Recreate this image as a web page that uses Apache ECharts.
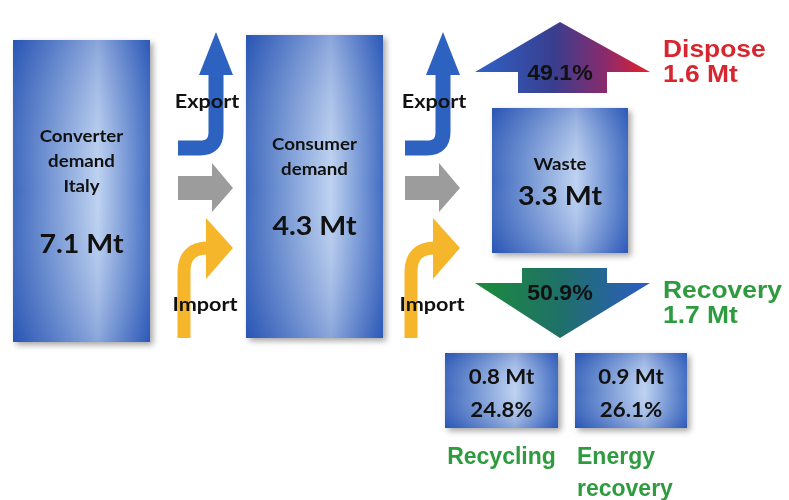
<!DOCTYPE html>
<html>
<head>
<meta charset="utf-8">
<script src="https://cdn.jsdelivr.net/npm/echarts@6/dist/echarts.min.js"></script>
<style>
  html, body { margin: 0; padding: 0; background: #fff; }
  #chart { width: 789px; height: 500px; }
</style>
</head>
<body>
<div id="chart"></div>
<script>
// values
const stageNames = ['Converter\ndemand\nItaly', 'Consumer\ndemand', 'Waste']
const stageValues = [7.1, 4.3, 3.3]
const flowLabels = ['Export', 'Import']
const outcomeNames = ['Dispose', 'Recovery']
const outcomeValues = [1.6, 1.7]
const outcomeShares = [49.1, 50.9]
const recoveryNames = ['Recycling', 'Energy\nrecovery']
const recoveryValues = [0.8, 0.9]
const recoveryShares = [24.8, 26.1]

// layout in diagram units (hidden axes span 0..789 x 0..500)
const boxLayout = [
  [13, 40, 150, 342],
  [246, 35, 383, 338],
  [492, 108, 628, 253],
  [445, 353, 558, 428],
  [575, 353, 687, 428]
]
const stageTextY = [[162, 245], [157, 227], [165, 197]]
const transferOffsets = [0, 227]

const chart = echarts.init(document.getElementById('chart'))

const boxFill = () => new echarts.graphic.LinearGradient(0, 0, 1, 0, [
  { offset: 0, color: '#2c5bb8' },
  { offset: 0.62, color: '#b9cff0' },
  { offset: 1, color: '#3160bd' }
])
const boxShade = () => new echarts.graphic.LinearGradient(0, 0, 0, 1, [
  { offset: 0, color: 'rgba(30,70,170,0.30)' },
  { offset: 0.5, color: 'rgba(255,255,255,0.08)' },
  { offset: 1, color: 'rgba(30,70,170,0.30)' }
])

// text helper, sx stretches the glyphs a little like the original
function txt (p, text, size, family, color, align, lh, sx) {
  return {
    type: 'text',
    x: p[0],
    y: p[1],
    scaleX: sx || 1,
    style: {
      text: text,
      fontSize: size,
      fontWeight: 'bold',
      fontFamily: family,
      fill: color,
      align: align || 'center',
      verticalAlign: 'middle',
      textAlign: align || 'center',
      textVerticalAlign: 'middle',
      lineHeight: lh || size * 1.2
    }
  }
}

function renderBox (params, api) {
  const i = params.dataIndex
  const a = api.coord([api.value(0), api.value(1)])
  const b = api.coord([api.value(2), api.value(3)])
  const cx = (api.value(0) + api.value(2)) / 2
  const shape = { x: a[0], y: a[1], width: b[0] - a[0], height: b[1] - a[1] }
  const children = [
    {
      type: 'rect',
      shape: shape,
      style: { fill: boxFill(), shadowBlur: 6, shadowOffsetX: 3, shadowOffsetY: 3, shadowColor: 'rgba(0,0,0,0.35)' }
    },
    { type: 'rect', shape: shape, style: { fill: boxShade() } }
  ]
  if (i < 3) {
    const ty = stageTextY[i]
    children.push(txt(api.coord([cx, ty[0]]), stageNames[i], 17, 'Lato', '#111', 'center', 25, 1.1))
    children.push(txt(api.coord([cx, ty[1]]), stageValues[i].toFixed(1) + ' Mt', 26, 'Lato', '#111', 'center', 30, 1.1))
  } else {
    const k = i - 3
    children.push(txt(api.coord([cx, 377]), recoveryValues[k].toFixed(1) + ' Mt', 21, 'Lato', '#111', 'center', 25, 1.06))
    children.push(txt(api.coord([cx, 410]), recoveryShares[k].toFixed(1) + '%', 21, 'Lato', '#111', 'center', 25, 1.06))
    if (k === 0) {
      children.push(txt(api.coord([cx, 458]), recoveryNames[k], 23, 'Liberation Sans', '#2e9b3f'))
    } else {
      children.push(txt(api.coord([api.value(0) + 2, 474]), recoveryNames[k], 23, 'Liberation Sans', '#2e9b3f', 'left', 32))
    }
  }
  return { type: 'group', children: children }
}

function renderTransfer (params, api) {
  const o = api.value(0)
  const c = (x, y) => api.coord([x + o, y])
  const pt = (x, y) => c(x, y).join(' ')
  const exportPath = 'M' + pt(178, 148) + ' L' + pt(200, 148) + ' Q' + pt(216, 148) + ' ' + pt(216, 132) + ' L' + pt(216, 74)
  const importPath = 'M' + pt(184, 338) + ' L' + pt(184, 272) + ' Q' + pt(184, 248) + ' ' + pt(208, 248)
  return {
    type: 'group',
    children: [
      { type: 'path', shape: { pathData: exportPath }, style: { stroke: '#2d62c0', lineWidth: 15, fill: null } },
      { type: 'polygon', shape: { points: [c(199, 75), c(233, 75), c(216, 32)] }, style: { fill: '#2d62c0' } },
      {
        type: 'polygon',
        shape: { points: [c(178, 176), c(212, 176), c(212, 163), c(233, 188), c(212, 212), c(212, 200), c(178, 200)] },
        style: { fill: '#9c9c9c' }
      },
      { type: 'path', shape: { pathData: importPath }, style: { stroke: '#f6b62c', lineWidth: 13, fill: null } },
      { type: 'polygon', shape: { points: [c(206, 218), c(233, 248), c(206, 279)] }, style: { fill: '#f6b62c' } },
      txt(c(207, 102), flowLabels[0], 18, 'Lato', '#111', 'center', 22, 1.2),
      txt(c(205, 305), flowLabels[1], 18, 'Lato', '#111', 'center', 22, 1.2)
    ]
  }
}

function renderOutcome (params, api) {
  const i = params.dataIndex
  const c = (x, y) => api.coord([x, y])
  let pts, fill, shareY, labelY, color
  if (i === 0) {
    pts = [c(518, 93), c(518, 72), c(475, 72), c(560, 22), c(650, 72), c(607, 72), c(607, 93)]
    fill = new echarts.graphic.LinearGradient(0, 0, 1, 0, [
      { offset: 0, color: '#2e63c8' },
      { offset: 0.45, color: '#393e8e' },
      { offset: 0.75, color: '#8b2a6c' },
      { offset: 1, color: '#e8202a' }
    ])
    shareY = 74
    labelY = 50
    color = '#d8262f'
  } else {
    pts = [c(522, 268), c(607, 268), c(607, 283), c(650, 283), c(560, 338), c(475, 283), c(522, 283)]
    fill = new echarts.graphic.LinearGradient(0, 0, 1, 0, [
      { offset: 0, color: '#1c8c3a' },
      { offset: 0.5, color: '#1f6f6a' },
      { offset: 1, color: '#2c5cc4' }
    ])
    shareY = 294
    labelY = 291
    color = '#2e9b3f'
  }
  return {
    type: 'group',
    children: [
      { type: 'polygon', shape: { points: pts }, style: { fill: fill } },
      txt(c(560, shareY), outcomeShares[i].toFixed(1) + '%', 22, 'Liberation Sans', '#111', 'center', 26, 1.05),
      txt(c(663, labelY), outcomeNames[i], 24, 'Liberation Sans', color, 'left', 28, 1.1),
      txt(c(663, labelY + 25), outcomeValues[i].toFixed(1) + ' Mt', 24, 'Liberation Sans', color, 'left', 28, 1.1)
    ]
  }
}

const option = {
  backgroundColor: '#ffffff',
  animation: false,
  grid: { left: 0, right: 0, top: 0, bottom: 0 },
  xAxis: { type: 'value', min: 0, max: 789, show: false },
  yAxis: { type: 'value', min: 0, max: 500, inverse: true, show: false },
  series: [
    {
      type: 'custom',
      name: 'transfers',
      silent: true,
      clip: false,
      renderItem: renderTransfer,
      data: transferOffsets.map(o => [o])
    },
    {
      type: 'custom',
      name: 'stages',
      silent: true,
      clip: false,
      renderItem: renderBox,
      data: boxLayout
    },
    {
      type: 'custom',
      name: 'outcomes',
      silent: true,
      clip: false,
      renderItem: renderOutcome,
      data: outcomeValues.map((v, i) => [i, v])
    }
  ]
}

chart.setOption(option)
window.addEventListener('resize', () => {
  chart.resize()
})
</script>
</body>
</html>
